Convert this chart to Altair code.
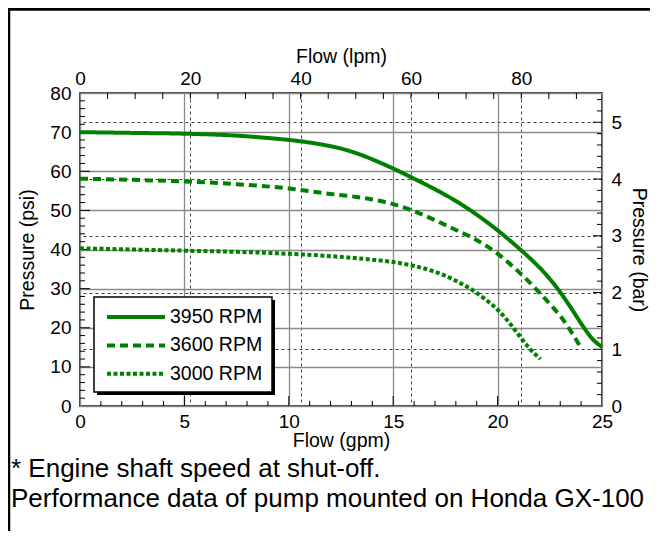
import altair as alt
import pandas as pd

GREEN = "#008000"
FONT = "Liberation Sans"
LPM_PER_GPM = 3.78541
PSI_PER_BAR = 14.5038
GPM_MAX = 25
PSI_MAX = 80

SERIES = ["3950 RPM", "3600 RPM", "3000 RPM"]
DASHES = [[1, 0], [8, 5], [4, 2.5]]

GPM_3950 = [0, 2.5, 5, 7.5, 9, 10.5, 11.5, 12.5, 13.5, 14.5, 15, 16, 17, 18, 19, 20, 21, 21.6, 22.2, 22.9, 23.5, 24.1, 24.5, 25]
PSI_3950 = [70.0, 69.8, 69.6, 69.1, 68.5, 67.7, 66.9, 65.8, 64.1, 61.9, 60.7, 58.1, 55.4, 52.4, 48.9, 44.9, 40.4, 37.5, 34.3, 29.8, 25.2, 20.3, 17.4, 15.1]

GPM_3600 = [0, 2.5, 5, 7.5, 10, 12, 13, 14, 15, 16, 17, 18, 18.8, 19.5, 20.1, 20.7, 21.4, 22.0, 22.6, 23.0, 23.5, 24.0]
PSI_3600 = [58.1, 57.8, 57.4, 56.7, 55.6, 54.2, 53.6, 52.8, 51.6, 49.8, 47.5, 45.0, 43.0, 40.8, 38.5, 35.8, 32.3, 29.0, 25.5, 23.0, 19.2, 14.8]

GPM_3000 = [0, 2.5, 5, 7.5, 10, 12, 14, 15, 16, 17, 17.5, 18, 18.5, 19, 19.5, 20.1, 20.45, 20.85, 21.15, 21.5, 22.05]
PSI_3000 = [40.3, 40.0, 39.7, 39.4, 38.9, 38.3, 37.4, 36.8, 35.8, 34.3, 33.3, 32.0, 30.6, 28.9, 26.9, 24.1, 22.0, 19.3, 17.2, 14.9, 12.0]

GPM_LABELS = [0, 5, 10, 15, 20, 25]
PSI_LABELS = [0, 10, 20, 30, 40, 50, 60, 70, 80]
LPM_LABELS = [0, 20, 40, 60, 80]
BAR_LABELS = [0, 1, 2, 3, 4, 5]

GPM_MINOR = [g for g in range(1, 25) if g % 5]
GPM_MAJOR = [5, 10, 15, 20]
PSI_MINOR = [p for p in range(2, 80, 2) if p % 10]
PSI_MAJOR = [10, 20, 30, 40, 50, 60, 70]
LPM_MINOR = list(range(5, 95, 5))
BAR_MINOR = [round(0.2 * k, 1) for k in range(1, 28) if k % 5]
BAR_MAJOR = [1, 2, 3, 4, 5]

NOTES = ["* Engine shaft speed at shut-off.",
         "Performance data of pump mounted on Honda GX-100"]

W, H = 522, 313
PAD = {"left": 72, "top": 85, "right": 48, "bottom": 125}

rows = []
for name, gx, py in zip(SERIES, [GPM_3950, GPM_3600, GPM_3000], [PSI_3950, PSI_3600, PSI_3000]):
    rows += [{"series": name, "gpm": a, "psi": b} for a, b in zip(gx, py)]
curves = pd.DataFrame(rows)
one = pd.DataFrame({"k": [0]})


def xs():
    return alt.Scale(domain=[0, GPM_MAX], nice=False, zero=False)


def ys():
    return alt.Scale(domain=[0, PSI_MAX], nice=False, zero=False)


ls = alt.Scale(domain=[0, GPM_MAX * LPM_PER_GPM], nice=False, zero=False)
bs = alt.Scale(domain=[0, PSI_MAX / PSI_PER_BAR], nice=False, zero=False)

common_axis = dict(ticks=False, domain=False, labelFontSize=19, titleFontSize=19.5,
                   labelFont=FONT, titleFont=FONT, labelColor="black", titleColor="black",
                   titleFontWeight="normal", labelFlush=False, labelOverlap=False)

x_axis = alt.Axis(values=GPM_LABELS, grid=True, gridColor="#8a8a8a", gridWidth=1.3,
                  labelPadding=6, title="Flow (gpm)", titlePadding=0, **common_axis)
y_axis = alt.Axis(values=PSI_LABELS, grid=True, gridColor="#8a8a8a", gridWidth=1.3,
                  labelPadding=9, title="Pressure (psi)", titlePadding=12, **common_axis)
top_axis = alt.Axis(orient="top", values=LPM_LABELS, grid=True, gridColor="#444444",
                    gridDash=[3, 3], gridWidth=1, labelPadding=5, title="Flow (lpm)",
                    titlePadding=3, **common_axis)
right_axis = alt.Axis(orient="right", values=BAR_LABELS, grid=True, gridColor="#444444",
                      gridDash=[3, 3], gridWidth=1, labelPadding=9, title="Pressure (bar)",
                      titlePadding=7, **common_axis)

legend = alt.Legend(title=None, orient="none", legendX=25, legendY=214, symbolType="stroke",
                    symbolSize=3364, symbolStrokeWidth=4, symbolStrokeColor=GREEN,
                    clipHeight=20, rowPadding=8.4, labelFontSize=19.5, labelFont=FONT,
                    labelOffset=3, labelColor="black", padding=0)

lines = alt.Chart(curves).mark_line(strokeWidth=4, interpolate="monotone", color=GREEN,
                                    strokeCap="butt").encode(
    x=alt.X("gpm:Q", scale=xs(), axis=x_axis),
    y=alt.Y("psi:Q", scale=ys(), axis=y_axis),
    strokeDash=alt.StrokeDash("series:N", scale=alt.Scale(domain=SERIES, range=DASHES),
                              sort=SERIES, legend=legend),
)


def vticks(vals, length):
    return alt.Chart(pd.DataFrame({"gpm": vals})).mark_rule(color="black", strokeWidth=1).encode(
        x=alt.X("gpm:Q", scale=xs(), axis=None), y=alt.value(H - length), y2=alt.value(H))


def hticks(vals, length):
    return alt.Chart(pd.DataFrame({"psi": vals})).mark_rule(color="black", strokeWidth=1).encode(
        y=alt.Y("psi:Q", scale=ys(), axis=None), x=alt.value(0), x2=alt.value(length))


shadow = alt.Chart(one).mark_rect(color="black").encode(
    x=alt.value(17), x2=alt.value(195), y=alt.value(207), y2=alt.value(302))
box = alt.Chart(one).mark_rect(fill="white", stroke="black", strokeWidth=1.5).encode(
    x=alt.value(14), x2=alt.value(192), y=alt.value(204), y2=alt.value(299))

frame_left = alt.Chart(one).mark_rule(color="black", strokeWidth=3).encode(
    x=alt.value(-PAD["left"] + 0.75), y=alt.value(-PAD["top"]), y2=alt.value(H + PAD["bottom"]))
frame_top = alt.Chart(one).mark_rule(color="black", strokeWidth=3).encode(
    x=alt.value(-PAD["left"]), x2=alt.value(W + PAD["right"]), y=alt.value(-PAD["top"] + 1.25))

note1 = alt.Chart(pd.DataFrame({"t": [NOTES[0]]})).mark_text(
    align="left", baseline="alphabetic", fontSize=26, font=FONT, color="black").encode(
    x=alt.value(-69), y=alt.value(384), text="t:N")
note2 = alt.Chart(pd.DataFrame({"t": [NOTES[1]]})).mark_text(
    align="left", baseline="alphabetic", fontSize=26, font=FONT, color="black").encode(
    x=alt.value(-69), y=alt.value(414), text="t:N")

top_ticks = alt.Chart(pd.DataFrame({"lpm": LPM_MINOR})).mark_rule(color="black", strokeWidth=1).encode(
    x=alt.X("lpm:Q", scale=ls, axis=top_axis), y=alt.value(0), y2=alt.value(6))

right_minor = alt.Chart(pd.DataFrame({"bar": BAR_MINOR})).mark_rule(color="black", strokeWidth=1).encode(
    y=alt.Y("bar:Q", scale=bs, axis=None), x=alt.value(W - 5), x2=alt.value(W))
right_major = alt.Chart(pd.DataFrame({"bar": BAR_MAJOR})).mark_rule(color="black", strokeWidth=1).encode(
    y=alt.Y("bar:Q", scale=bs, axis=right_axis), x=alt.value(W - 9), x2=alt.value(W))

chart = alt.layer(
    vticks(GPM_MINOR, 5), vticks(GPM_MAJOR, 10), hticks(PSI_MINOR, 5), hticks(PSI_MAJOR, 10),
    top_ticks, right_minor, right_major,
    shadow, box, lines, frame_left, frame_top, note1, note2,
).resolve_scale(
    x="independent", y="independent"
).properties(
    width=W, height=H, autosize=alt.AutoSizeParams(type="none"), padding=PAD,
    background="white",
).configure_view(stroke="black", strokeWidth=1.5)

chart.save("out.html", embed_options={"renderer": "svg", "actions": False})
